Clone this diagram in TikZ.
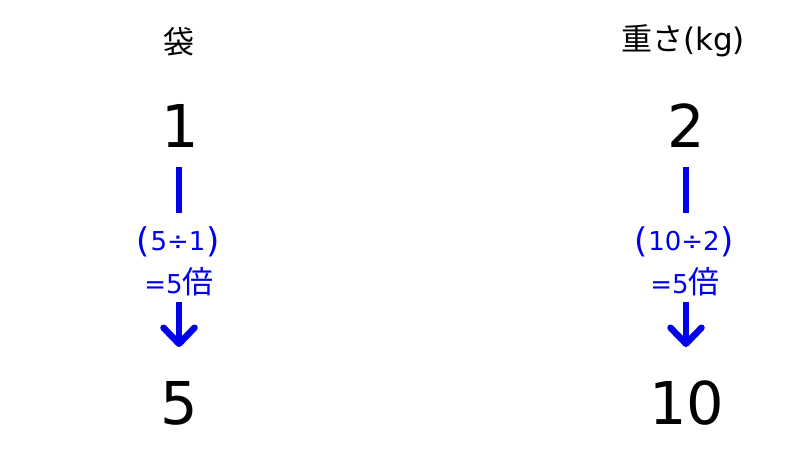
\documentclass[tikz,border=0pt]{standalone}
\usepackage{fontspec}
\setmainfont{DejaVu Sans}
\newfontfamily\cjk{Noto Sans CJK JP}
\usetikzlibrary{arrows.meta}
\definecolor{arrowblue}{RGB}{0,0,235}
\newcommand{\lpar}{\raisebox{-2pt}{\fontsize{34}{34}\selectfont(}\kern1pt}
\newcommand{\rpar}{\kern1pt\raisebox{-2pt}{\fontsize{34}{34}\selectfont)}}
\newcommand{\bai}{{\cjk\fontsize{31}{31}\selectfont 倍}}
\begin{document}
\begin{tikzpicture}[x=1pt,y=-1pt,
  big/.style={font=\fontsize{59}{59}\selectfont, inner sep=0pt},
  headlab/.style={font=\fontsize{31}{31}\selectfont, inner sep=0pt},
  lab/.style={font=\fontsize{26}{26}\selectfont, text=arrowblue, inner sep=0pt},
  conn/.style={draw=arrowblue, line width=6.5pt},
  connarrow/.style={conn, -{Straight Barb[round,length=16pt,width=31pt]}},
]
\useasboundingbox (0,0) rectangle (800,450);
% headers
\node[headlab] (hbag) at (179,41.5) {\cjk 袋};
\node[headlab] (hwt) at (683,41) {\cjk 重さ\rmfamily(kg)};
% numbers
\node[big] (n1) at (180,126) {1};
\node[big] (n2) at (686,126) {2};
\node[big] (n5) at (179,403) {5};
\node[big] (n10) at (687,403) {10};
% labels
\node[lab] (l1) at (178,241.5) {\lpar 5÷1\rpar};
\node[lab] (l2) at (179,282) {=5\bai};
\node[lab] (r1) at (684,241.5) {\lpar 10÷2\rpar};
\node[lab] (r2) at (685,282) {=5\bai};
% connector coordinates
\coordinate (a1) at (179,167);
\coordinate (a2) at (179,213);
\coordinate (a3) at (179,302);
\coordinate (a4) at (179,347);
\coordinate (b1) at (686,167);
\coordinate (b2) at (686,213);
\coordinate (b3) at (686,302);
\coordinate (b4) at (686,347);
\draw[conn] (a1) -- (a2);
\draw[connarrow] (a3) -- (a4);
\draw[conn] (b1) -- (b2);
\draw[connarrow] (b3) -- (b4);
\end{tikzpicture}
\end{document}
